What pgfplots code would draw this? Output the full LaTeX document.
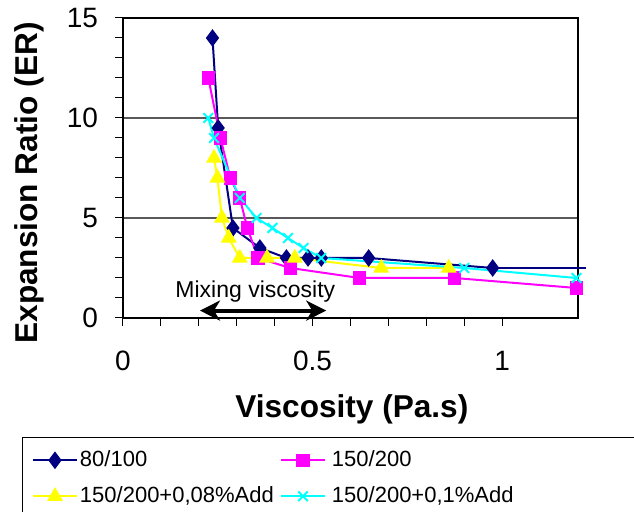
\documentclass[border=0pt]{standalone}
\usepackage{pgfplots}
\pgfplotsset{compat=1.18}
\usepackage{fontspec}
\setmainfont{Liberation Sans}
\usetikzlibrary{arrows.meta}
\definecolor{navyc}{RGB}{0,0,128}
\definecolor{magc}{RGB}{255,0,255}
\definecolor{yelc}{RGB}{255,255,0}
\definecolor{cyac}{RGB}{0,255,255}
\begin{document}
\begin{tikzpicture}
\begin{axis}[
  scale only axis, width=227.5pt, height=150pt,
  xmin=0, xmax=1.2, ymin=0, ymax=15,
  xtick={0,0.5,1}, minor x tick num=4,
  ytick={0,5,10,15}, minor y tick num=4,
  xticklabels={0,0.5,1},
  tick align=outside, xtick pos=bottom, ytick pos=left,
  major tick length=4pt, minor tick length=4pt,
  tick style={black, line width=0.5pt},
  ymajorgrids, major grid style={gray!70!black, line width=0.6pt},
  axis line style={black, line width=0.6pt},
  /pgf/number format/assume math mode=true,
  ticklabel style={font=\fontsize{14}{16}\selectfont},
  xticklabel style={yshift=-9pt},
  yticklabel style={xshift=-5pt},
  xlabel={Viscosity (Pa.s)}, ylabel={Expansion Ratio (ER)},
  every axis x label/.style={at={(axis description cs:0.503,-0.303)}, anchor=center, font=\bfseries\fontsize{15.8}{18}\selectfont},
  every axis y label/.style={at={(axis description cs:-0.2066,0.45)}, rotate=90, anchor=center, font=\bfseries\fontsize{15.8}{18}\selectfont},
  clip=false,
  legend columns=2,
  legend style={draw=none, fill=none, inner sep=0pt, at={(axis description cs:-0.2009,-0.433)}, anchor=north west,
    font=\fontsize{11}{13}\selectfont, nodes={inner sep=1pt, text height=8pt, text depth=2pt}, row sep=6pt},
  /tikz/every even column/.append style={column sep=0pt},
  legend cell align=left,
  legend image code/.code={\draw[mark repeat=2,mark phase=2,#1] plot coordinates {(0pt,0pt) (11pt,0pt) (22pt,0pt)};},
]
\addplot[navyc, line width=1pt, mark=diamond*, mark size=3.6pt, mark options={solid, fill=navyc}] coordinates {
 (0.236,14) (0.251,9.5) (0.290,4.5) (0.361,3.5) (0.431,3.0) (0.488,3.0) (0.523,3.0) (0.648,3.0) (0.975,2.5)};
\addlegendentry{\makebox[99pt][l]{80/100}}
\addplot[magc, line width=1pt, mark=square*, mark size=2.8pt, mark options={solid, fill=magc}] coordinates {
 (0.225,12) (0.257,9) (0.283,7) (0.308,6) (0.328,4.5) (0.356,3) (0.441,2.5) (0.624,2) (0.874,2) (1.196,1.5)};
\addlegendentry{\hspace{2pt}150/200}
\addplot[yelc, line width=1pt, mark=triangle*, mark size=3.6pt, mark options={solid, fill=yelc}] coordinates {
 (0.240,8) (0.249,7) (0.261,5) (0.279,4) (0.308,3) (0.380,3) (0.453,3) (0.681,2.5) (0.859,2.5)};
\addlegendentry{\makebox[99pt][l]{150/200+0,08\%Add}}
\addplot[cyac, line width=1pt, mark=x, mark size=3.4pt, mark options={solid, line width=1pt}] coordinates {
 (0.225,10) (0.240,9) (0.308,6) (0.352,5) (0.394,4.5) (0.435,4) (0.476,3.5) (0.523,3) (0.900,2.5) (1.196,2)};
\addlegendentry{\hspace{2pt}150/200+0,1\%Add}
\addplot[navyc, line width=1pt, forget plot] coordinates {(0.975,2.5) (1.22,2.5)};
\node[font=\fontsize{11.5}{13}\selectfont] at (axis cs:0.349,1.3) {Mixing viscosity};
\draw[line width=2pt, {Stealth[length=10pt,width=10pt,inset=3pt]}-{Stealth[length=10pt,width=10pt,inset=3pt]}] (axis cs:0.203,0.37) -- (axis cs:0.536,0.37);
\end{axis}
\draw[black, line width=0.5pt] (-50pt,-60pt) rectangle (330pt,-140pt);
\pgfresetboundingbox
\useasboundingbox (-61.5pt,-97pt) rectangle (255.5pt,159pt);
\end{tikzpicture}
\end{document}
